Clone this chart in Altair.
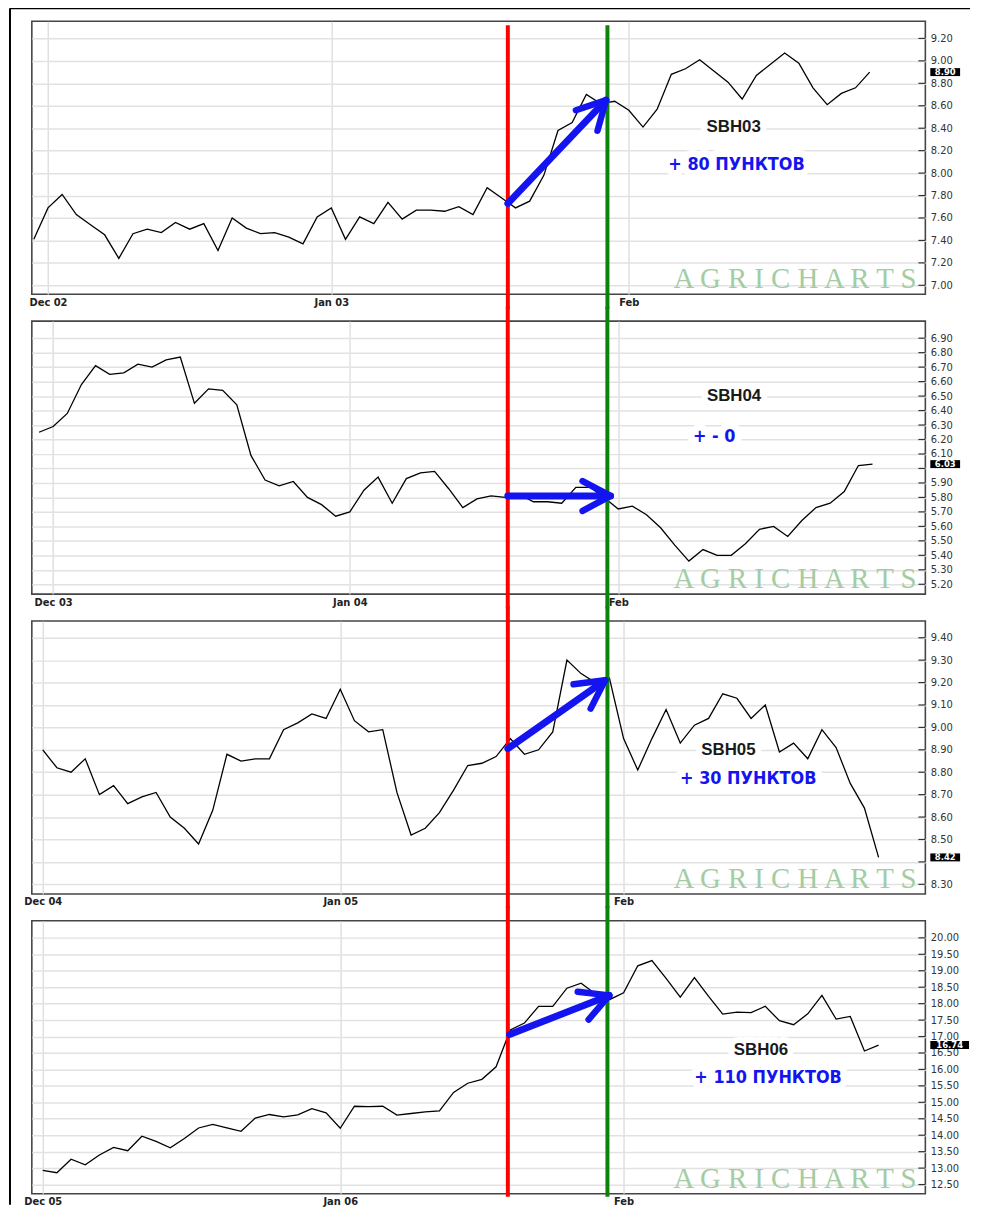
import math
import altair as alt
import pandas as pd

# ---------------- data ----------------
sbh03_close = [7.41, 7.69, 7.81, 7.63, 7.54, 7.45, 7.24, 7.46, 7.50, 7.47,
               7.56, 7.50, 7.55, 7.31, 7.60, 7.51, 7.46, 7.47, 7.43, 7.37,
               7.61, 7.69, 7.41, 7.61, 7.55, 7.74, 7.59, 7.67, 7.67, 7.66,
               7.70, 7.63, 7.87, 7.78, 7.69, 7.75, 7.98, 8.38, 8.45, 8.70,
               8.62, 8.64, 8.56, 8.41, 8.57, 8.88, 8.93, 9.01, 8.91, 8.81,
               8.66, 8.87, 8.97, 9.07, 8.98, 8.76, 8.61, 8.71, 8.76, 8.90]
sbh04_close = [6.25, 6.29, 6.38, 6.58, 6.71, 6.65, 6.66, 6.72, 6.70, 6.75,
               6.77, 6.45, 6.55, 6.54, 6.44, 6.09, 5.92, 5.88, 5.91, 5.80,
               5.75, 5.67, 5.70, 5.85, 5.94, 5.76, 5.93, 5.97, 5.98, 5.86,
               5.73, 5.79, 5.81, 5.80, 5.82, 5.77, 5.77, 5.76, 5.87, 5.87,
               5.80, 5.72, 5.74, 5.68, 5.59, 5.47, 5.36, 5.44, 5.40, 5.40,
               5.48, 5.58, 5.60, 5.53, 5.64, 5.73, 5.76, 5.84, 6.02, 6.03]
sbh05_close = [8.90, 8.82, 8.80, 8.86, 8.70, 8.74, 8.66, 8.69, 8.71, 8.60,
               8.55, 8.48, 8.63, 8.88, 8.85, 8.86, 8.86, 8.99, 9.02, 9.06,
               9.04, 9.17, 9.03, 8.98, 8.99, 8.71, 8.52, 8.55, 8.62, 8.72,
               8.83, 8.84, 8.87, 8.95, 8.88, 8.90, 8.98, 9.30, 9.24, 9.20,
               9.22, 8.95, 8.81, 8.95, 9.08, 8.93, 9.01, 9.04, 9.15, 9.13,
               9.04, 9.10, 8.89, 8.93, 8.86, 8.99, 8.91, 8.75, 8.64, 8.42]
sbh06_close = [12.93, 12.86, 13.27, 13.10, 13.40, 13.63, 13.53, 13.97, 13.81, 13.62,
               13.90, 14.22, 14.33, 14.22, 14.12, 14.52, 14.63, 14.56, 14.62, 14.81,
               14.68, 14.21, 14.88, 14.87, 14.88, 14.61, 14.66, 14.71, 14.74, 15.30,
               15.58, 15.70, 16.08, 17.20, 17.41, 17.92, 17.92, 18.47, 18.62, 18.30,
               18.12, 18.33, 19.15, 19.31, 18.77, 18.20, 18.79, 18.22, 17.68, 17.74,
               17.73, 17.92, 17.48, 17.36, 17.69, 18.25, 17.53, 17.61, 16.56, 16.74]

sbh03_month_ticks = [1, 21, 42]
sbh03_month_labels = ["Dec 02", "Jan 03", "Feb"]
sbh04_month_ticks = [1, 22, 41]
sbh04_month_labels = ["Dec 03", "Jan 04", "Feb"]
sbh05_month_ticks = [0, 21, 41]
sbh05_month_labels = ["Dec 04", "Jan 05", "Feb"]
sbh06_month_ticks = [0, 21, 41]
sbh06_month_labels = ["Dec 05", "Jan 06", "Feb"]

sbh03_price_ticks = [7.00, 7.20, 7.40, 7.60, 7.80, 8.00, 8.20, 8.40, 8.60, 8.80, 9.00, 9.20]
sbh04_price_ticks = [5.20, 5.30, 5.40, 5.50, 5.60, 5.70, 5.80, 5.90, 6.00,
                     6.10, 6.20, 6.30, 6.40, 6.50, 6.60, 6.70, 6.80, 6.90]
sbh05_price_ticks = [8.30, 8.40, 8.50, 8.60, 8.70, 8.80, 8.90, 9.00, 9.10, 9.20, 9.30, 9.40]
sbh06_price_ticks = [12.50, 13.00, 13.50, 14.00, 14.50, 15.00, 15.50, 16.00,
                     16.50, 17.00, 17.50, 18.00, 18.50, 19.00, 19.50, 20.00]
hidden_price_labels = [None, 6.00, 8.40, None]   # covered by the last-price box

contract_names = ["SBH03", "SBH04", "SBH05", "SBH06"]
gain_notes = ["+ 80 ПУНКТОВ", "+ - 0", "+ 30 ПУНКТОВ", "+ 110 ПУНКТОВ"]
last_price_labels = ["8.90", "6.03", "8.42", "16.74"]

red_day = [33.46, 33.18, 32.83, 32.83]      # entry day (red line)
green_day = [40.49, 40.23, 39.86, 39.86]    # exit day (green line)
arrow_start_day = [33.46, 33.18, 32.83, 32.95]
arrow_start_price = [7.73, 5.81, 8.905, 17.06]
arrow_end_day = [40.39, 40.46, 39.69, 39.99]
arrow_end_price = [8.65, 5.81, 9.21, 18.25]

closes = [sbh03_close, sbh04_close, sbh05_close, sbh06_close]
month_ticks = [sbh03_month_ticks, sbh04_month_ticks, sbh05_month_ticks, sbh06_month_ticks]
month_labels = [sbh03_month_labels, sbh04_month_labels, sbh05_month_labels, sbh06_month_labels]
price_ticks = [sbh03_price_ticks, sbh04_price_ticks, sbh05_price_ticks, sbh06_price_ticks]

# ---------------- layout / style ----------------
W, H, GAP = 900, 275, 27
x_domains = [[-0.14, 62.93], [-0.51, 62.74], [-0.77, 62.30], [-0.77, 62.30]]
y_domains = [[6.92, 9.353], [5.132, 7.018], [8.257, 9.475], [12.22, 20.52]]
name_anchor = [(49.4, 8.41), (49.2, 6.50), (48.4, 8.90), (50.7, 16.60)]
note_anchor = [(49.6, 8.07), (47.8, 6.22), (49.8, 8.77), (51.2, 15.75)]

AXIS_FONT = "DejaVu Sans"
NOTE_FONT = "Liberation Sans Narrow, DejaVu Sans Condensed, sans-serif"
BLUE = "#1414f0"
CHEVRON = "M-0.883,-0.469L0,0L-0.883,0.469"
WATERMARK = " ".join("AGRICHARTS")


def panel(k):
    vals = closes[k]
    line_df = pd.DataFrame({"i": list(range(len(vals))), "v": vals})
    xd, yd = x_domains[k], y_domains[k]
    xt, xl = month_ticks[k], month_labels[k]

    expr = repr(xl[-1])
    for t, l in zip(reversed(xt[:-1]), reversed(xl[:-1])):
        expr = f"datum.value == {t} ? {l!r} : ({expr})"

    y_axis_kw = dict(
        orient="right", values=price_ticks[k], format=".2f", title=None,
        grid=True, gridColor="#e2e2e2", gridWidth=1.5, ticks=False,
        domain=False, labelFont=AXIS_FONT, labelFontSize=10,
        labelColor="#333333", labelPadding=5, labelOverlap=False,
    )
    if hidden_price_labels[k] is not None:
        y_axis_kw["labelExpr"] = (
            f"abs(datum.value - {hidden_price_labels[k]}) < 0.001 ? '' : datum.label"
        )

    X = alt.X("i:Q", scale=alt.Scale(domain=xd, nice=False, zero=False),
              axis=alt.Axis(values=xt, labelExpr=expr, title=None, grid=True,
                            gridColor="#d8d8d8", gridWidth=1.2, ticks=False,
                            domain=False, labelFont=AXIS_FONT, labelFontSize=10,
                            labelFontWeight="bold", labelColor="#222222",
                            labelPadding=3, labelFlush=False, labelAngle=0))
    Y = alt.Y("v:Q", scale=alt.Scale(domain=yd, nice=False, zero=False),
              axis=alt.Axis(**y_axis_kw))

    top = 4 if k == 0 else -(GAP / 2 + 1)
    bot = H + 3 if k == 3 else H + GAP / 2 + 1
    ftop = -13 if k == 0 else -(GAP / 2 + 1)
    fbot = H + 11 if k == 3 else H + GAP / 2 + 1

    name_df = pd.DataFrame({"i": [name_anchor[k][0]], "v": [name_anchor[k][1]],
                            "t": [contract_names[k]]})
    note_df = pd.DataFrame({"i": [note_anchor[k][0]], "v": [note_anchor[k][1]],
                            "t": [gain_notes[k]]})

    layers = []
    # white patches behind the annotation texts
    layers.append(alt.Chart(name_df).mark_text(
        font="Liberation Sans", fontSize=17, fontWeight="bold", fill="white",
        stroke="white", strokeWidth=12, strokeJoin="round").encode(x=X, y=Y, text="t:N"))
    layers.append(alt.Chart(note_df).mark_text(
        font=NOTE_FONT, fontSize=18, fontWeight="bold", fill="white",
        stroke="white", strokeWidth=14, strokeJoin="round").encode(x=X, y=Y, text="t:N"))

    # price line
    layers.append(alt.Chart(line_df).mark_line(color="black", strokeWidth=1.3)
                  .encode(x=X, y=Y))

    # red / green vertical lines
    layers.append(alt.Chart(pd.DataFrame({"i": [red_day[k]]})).mark_rule(
        color="#ff0000", strokeWidth=4).encode(x=X, y=alt.value(top), y2=alt.value(bot)))
    layers.append(alt.Chart(pd.DataFrame({"i": [green_day[k]]})).mark_rule(
        color="#0a850a", strokeWidth=4).encode(x=X, y=alt.value(top), y2=alt.value(bot)))

    # blue arrow
    adf = pd.DataFrame({"i": [arrow_start_day[k]], "v": [arrow_start_price[k]],
                        "i2": [arrow_end_day[k]], "v2": [arrow_end_price[k]]})
    layers.append(alt.Chart(adf).mark_rule(color=BLUE, strokeWidth=7, strokeCap="round")
                  .encode(x=X, y=Y, x2="i2:Q", y2="v2:Q"))
    kx = W / (xd[1] - xd[0])
    ky = H / (yd[1] - yd[0])
    dx = (arrow_end_day[k] - arrow_start_day[k]) * kx
    dy = -(arrow_end_price[k] - arrow_start_price[k]) * ky
    ang = math.degrees(math.atan2(dy, dx)) % 360
    hdf = pd.DataFrame({"i": [arrow_end_day[k]], "v": [arrow_end_price[k]]})
    layers.append(alt.Chart(hdf).mark_point(
        shape=CHEVRON, size=4096, angle=ang, filled=False, stroke=BLUE,
        strokeWidth=6.5, strokeCap="round", strokeJoin="round", opacity=1)
        .encode(x=X, y=Y))

    # annotation texts
    layers.append(alt.Chart(name_df).mark_text(
        font="Liberation Sans", fontSize=17, fontWeight="bold", color="#1a1a1a")
        .encode(x=X, y=Y, text="t:N"))
    layers.append(alt.Chart(note_df).mark_text(
        font=NOTE_FONT, fontSize=18, fontWeight="bold", color=BLUE)
        .encode(x=X, y=Y, text="t:N"))

    # watermark
    layers.append(alt.Chart(pd.DataFrame({"t": [WATERMARK]})).mark_text(
        font="Liberation Serif", fontSize=29, color="#a3cca3", align="right",
        baseline="alphabetic").encode(x=alt.value(W - 9), y=alt.value(H - 6), text="t:N"))

    # inward ticks on the price axis
    layers.append(alt.Chart(pd.DataFrame({"v": price_ticks[k]})).mark_rule(
        color="#333333", strokeWidth=1.2).encode(y=Y, x=alt.value(W - 7), x2=alt.value(W)))

    # last price box
    lab = last_price_labels[k]
    last = vals[-1]
    bw = 9 * len(lab) - 6
    u = bw / 2
    hh = 4.0 / u
    box_path = f"M-1,{-hh:.3f}L1,{-hh:.3f}L1,{hh:.3f}L-1,{hh:.3f}Z"
    ldf = pd.DataFrame({"v": [last], "t": [lab]})
    layers.append(alt.Chart(ldf).mark_point(
        shape=box_path, size=bw * bw, filled=True, color="black", opacity=1,
        strokeWidth=0).encode(y=Y, x=alt.value(W + 5 + u)))
    layers.append(alt.Chart(ldf).mark_text(
        font=AXIS_FONT, fontSize=8.5, fontWeight="bold", color="white")
        .encode(y=Y, x=alt.value(W + 5 + u), text="t:N"))

    # outer frame of the picture
    layers.append(alt.Chart(pd.DataFrame({"t": [0]})).mark_rule(
        color="black", strokeWidth=2).encode(
        x=alt.value(-22), y=alt.value(ftop), y2=alt.value(fbot)))
    if k == 0:
        layers.append(alt.Chart(pd.DataFrame({"t": [0]})).mark_rule(
            color="black", strokeWidth=2).encode(
            x=alt.value(-22), x2=alt.value(W + 45), y=alt.value(-13)))

    return alt.layer(*layers).properties(width=W, height=H)


chart = (
    alt.vconcat(*[panel(k) for k in range(4)], spacing=GAP, bounds="flush")
    .properties(padding={"left": 0, "top": -6, "right": 2, "bottom": 0})
    .configure_view(stroke="#454545", strokeWidth=1.6)
)

chart.save("out.html", embed_options={"renderer": "svg", "actions": False})
